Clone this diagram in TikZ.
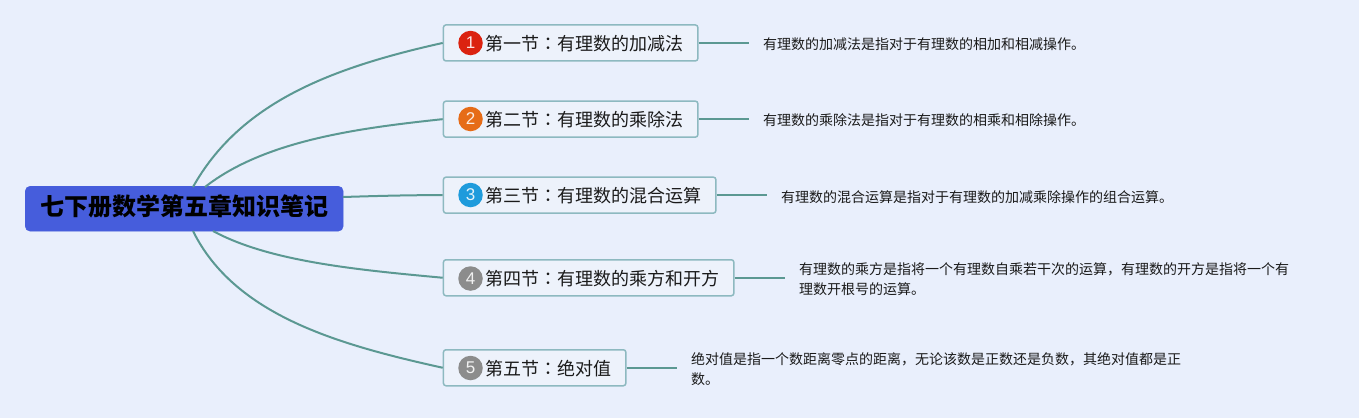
\documentclass[tikz,border=0pt]{standalone}
\usepackage{fontspec}
\setmainfont{Noto Sans CJK SC}
\newfontfamily\digitfont{Liberation Sans}
\newfontfamily\colonfont{Noto Sans CJK TC}
\definecolor{bgc}{HTML}{E9EFFC}
\definecolor{rootc}{HTML}{465DDC}
\definecolor{linec}{HTML}{5B9892}
\definecolor{edgec}{HTML}{8DB9C0}
\definecolor{boxc}{HTML}{EDF2FB}
\definecolor{inkc}{HTML}{1A1A1A}
\definecolor{redc}{HTML}{DB2310}
\definecolor{orangec}{HTML}{E66C17}
\definecolor{bluec}{HTML}{1E9BDC}
\definecolor{greyc}{HTML}{8C8C8C}
\newcommand{\cln}{{\colonfont ：}}
\tikzset{
  rootnode/.style={fill=rootc,draw=rootc,rounded corners=5pt,inner sep=0pt,minimum width=318pt,minimum height=45pt,text height=13.2pt,text depth=0pt,text=black,font=\fontsize{24}{28}\selectfont\bfseries,anchor=north west},
  topic/.style={fill=boxc,draw=edgec,line width=1.5pt,rounded corners=2.5pt,inner ysep=0pt,inner xsep=14.5pt,minimum height=36pt,text height=15.6pt,text depth=0pt,text width=#1-29pt,align=right,text=inkc,font=\fontsize{18}{22}\selectfont,anchor=north west},
  badge/.style={circle,fill=#1,inner sep=0pt,minimum size=24.5pt,text=white!88!#1,font=\digitfont\fontsize{17}{20}\selectfont},
  leaf/.style={inner sep=0pt,anchor=west,align=left,text=inkc,font=\fontsize{14}{20}\selectfont},
  conn/.style={draw=linec,line width=2pt},
}
\begin{document}
\begin{tikzpicture}[x=1pt,y=-1pt]
\useasboundingbox (0,0) rectangle (1359,418);
\fill[bgc] (0,0) rectangle (1359,418);
\coordinate (a1) at (193,187);
\coordinate (a2) at (205,187);
\coordinate (a3) at (343,197);
\coordinate (a4) at (213,231);
\coordinate (a5) at (193,231);
\node[rootnode] (r) at (25,186) {七下册数学第五章知识笔记};
\node[topic=254.4pt] (t1) at (442.7,24.2) {第一节\cln 有理数的加减法};
\node[topic=254.4pt] (t2) at (442.7,100.4) {第二节\cln 有理数的乘除法};
\node[topic=272.4pt] (t3) at (442.7,176.4) {第三节\cln 有理数的混合运算};
\node[topic=290.4pt] (t4) at (442.7,259) {第四节\cln 有理数的乘方和开方};
\node[topic=182.4pt] (t5) at (442.7,349) {第五节\cln 绝对值};
\coordinate (e1) at ([xshift=50pt]t1.east);
\coordinate (e2) at ([xshift=50pt]t2.east);
\coordinate (e3) at ([xshift=50pt]t3.east);
\coordinate (e4) at ([xshift=50pt]t4.east);
\coordinate (e5) at ([xshift=50pt]t5.east);
\node[badge=redc] (b1) at (470.5,43) {1};
\node[badge=orangec] (b2) at (470.5,119) {2};
\node[badge=bluec] (b3) at (470.5,195) {3};
\node[badge=greyc] (b4) at (470.5,278.5) {4};
\node[badge=greyc] (b5) at (470.5,368) {5};
\node[leaf] (l1) at (763,44) {有理数的加减法是指对于有理数的相加和相减操作。};
\node[leaf] (l2) at (763,120) {有理数的乘除法是指对于有理数的相乘和相除操作。};
\node[leaf] (l3) at (781,197) {有理数的混合运算是指对于有理数的加减乘除操作的组合运算。};
\node[leaf] (l4) at (799,279.5) {有理数的乘方是指将一个有理数自乘若干次的运算，有理数的开方是指将一个有\\理数开根号的运算。};
\node[leaf] (l5) at (691,369) {绝对值是指一个数距离零点的距离，无论该数是正数还是负数，其绝对值都是正\\数。};
\draw[conn] (a1) .. controls (240,103) and (330,68) .. (t1.west);
\draw[conn] (a2) .. controls (265,140) and (360,128) .. (t2.west);
\draw[conn] (a3) .. controls (375,196) and (410,195) .. (t3.west);
\draw[conn] (a4) .. controls (270,262) and (360,270) .. (t4.west);
\draw[conn] (a5) .. controls (235,316) and (340,345) .. (t5.west);
\draw[conn] (t1.east) -- (e1);
\draw[conn] (t2.east) -- (e2);
\draw[conn] (t3.east) -- (e3);
\draw[conn] (t4.east) -- (e4);
\draw[conn] (t5.east) -- (e5);
\end{tikzpicture}
\end{document}
